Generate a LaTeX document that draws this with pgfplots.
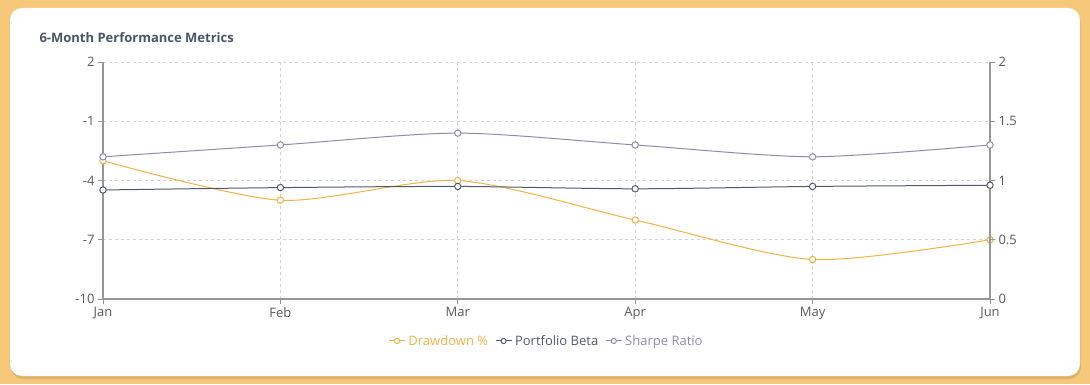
\documentclass[border=0pt]{standalone}
\usepackage{fontspec}
\setmainfont{Open Sans}
\usepackage{pgfplots}
\pgfplotsset{compat=1.18}
\definecolor{bgout}{RGB}{246,200,122}
\definecolor{shadowc}{RGB}{222,178,108}
\definecolor{ddc}{RGB}{242,178,70}
\definecolor{betac}{RGB}{80,90,110}
\definecolor{sharpec}{RGB}{140,142,168}
\definecolor{axisgrey}{RGB}{150,150,150}
\definecolor{gridgrey}{RGB}{212,212,212}
\definecolor{ticktext}{RGB}{90,90,90}
\definecolor{titlecol}{RGB}{74,85,104}
\pgfplotsset{
  common/.style={
    at={(103pt,85pt)}, anchor=south west, scale only axis,
    width=887pt, height=237pt,
    xmin=0, xmax=5,
    tick align=outside, major tick length=5pt,
    axis line style={axisgrey, line width=1.5pt},
    tick style={axisgrey, line width=1pt},
    ticklabel style={font=\fontsize{13}{15}\selectfont, text=ticktext},
    /pgf/number format/assume math mode=true,
  },
  myleg/.style={
    legend image code/.code={
      \draw[#1, mark repeat=2, mark phase=2, mark size=2.6pt] plot coordinates {(0pt,0pt) (8pt,0pt) (16pt,0pt)};
    }
  }
}
\begin{document}
\begin{tikzpicture}[x=1pt,y=1pt]
\fill[bgout] (0,0) rectangle (1090,384);
\useasboundingbox (0,0) rectangle (1090,384);
\fill[shadowc, rounded corners=12pt] (11,5) rectangle (1081,373);
\fill[white, rounded corners=12pt] (10,8) rectangle (1080,376);
\node[anchor=west, font=\bfseries\fontsize{13}{15}\selectfont, text=titlecol] at (36,346) {6-Month Performance Metrics};
\begin{axis}[common,
  ymin=-10, ymax=2, ytick={-10,-7,-4,-1,2},
  xtick={0,1,2,3,4,5}, xticklabels={Jan,Feb,Mar,Apr,May,Jun},
  axis y line*=left, axis x line*=bottom,
  grid=major, grid style={dashed, gridgrey, line width=0.8pt},
]
\addplot[ddc, line width=1pt, smooth, tension=0.45, mark=*, mark size=3.2pt, mark options={fill=white, draw=ddc, solid}]
  coordinates {(0,-3) (1,-5) (2,-4) (3,-6) (4,-8) (5,-7)};
\end{axis}
\begin{axis}[common,
  ymin=0, ymax=2, ytick={0,0.5,1,1.5,2},
  axis y line*=right, axis x line=none,
  legend style={at={(0.5,-0.177)}, anchor=center, draw=none, fill=none,
    legend columns=-1, font=\fontsize{13}{15}\selectfont,
    /tikz/every odd column/.append style={column sep=1pt},
    /tikz/every even column/.append style={column sep=5pt}},
  legend cell align=left,
]
\addlegendimage{myleg, ddc, line width=1pt, mark=*, mark options={fill=white, draw=ddc, solid}}
\addlegendentry{\textcolor{ddc}{Drawdown \%}}
\addplot[betac, line width=1pt, smooth, tension=0.45, mark=*, mark size=3.2pt, mark options={fill=white, draw=betac, solid}, myleg]
  coordinates {(0,0.92) (1,0.94) (2,0.95) (3,0.93) (4,0.95) (5,0.96)};
\addlegendentry{\textcolor{betac}{Portfolio Beta}}
\addplot[sharpec, line width=1pt, smooth, tension=0.45, mark=*, mark size=3.2pt, mark options={fill=white, draw=sharpec, solid}, myleg]
  coordinates {(0,1.2) (1,1.3) (2,1.4) (3,1.3) (4,1.2) (5,1.3)};
\addlegendentry{\textcolor{sharpec}{Sharpe Ratio}}
\end{axis}
\end{tikzpicture}
\end{document}
